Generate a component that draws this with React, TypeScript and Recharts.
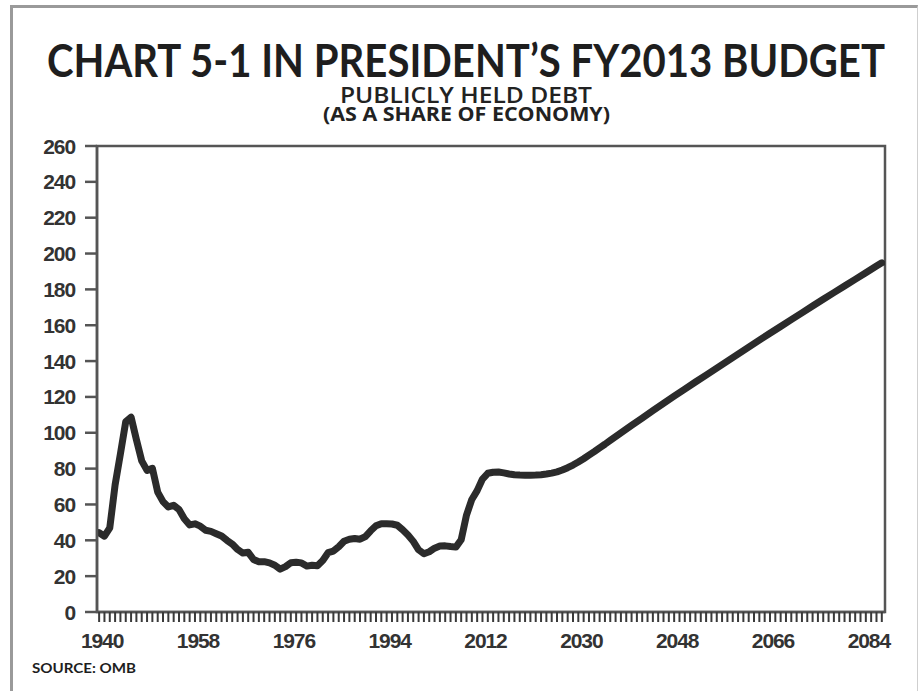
import { LineChart, Line, XAxis, YAxis, ReferenceArea } from "recharts";

// fiscal years plotted (yearly through 2040, every other year after that)
const years = [
  1940, 1941, 1942, 1943, 1944, 1945, 1946, 1947, 1948, 1949,
  1950, 1951, 1952, 1953, 1954, 1955, 1956, 1957, 1958, 1959,
  1960, 1961, 1962, 1963, 1964, 1965, 1966, 1967, 1968, 1969,
  1970, 1971, 1972, 1973, 1974, 1975, 1976, 1977, 1978, 1979,
  1980, 1981, 1982, 1983, 1984, 1985, 1986, 1987, 1988, 1989,
  1990, 1991, 1992, 1993, 1994, 1995, 1996, 1997, 1998, 1999,
  2000, 2001, 2002, 2003, 2004, 2005, 2006, 2007, 2008, 2009,
  2010, 2011, 2012, 2013, 2014, 2015, 2016, 2017, 2018, 2019,
  2020, 2021, 2022, 2023, 2024, 2025, 2026, 2027, 2028, 2029,
  2030, 2031, 2032, 2033, 2034, 2035, 2036, 2037, 2038, 2039,
  2040, 2042, 2044, 2046, 2048, 2050, 2052, 2054, 2056, 2058,
  2060, 2062, 2064, 2066, 2068, 2070, 2072, 2074, 2076, 2078,
  2080, 2082, 2084, 2086, 2087,
];

// debt held by the public, % of GDP
const debt = [
  44.2, 42.3, 47.0, 70.9, 88.3, 106.2, 108.7, 96.2, 84.3, 79.0,
  80.2, 66.9, 61.6, 58.6, 59.5, 57.2, 52.0, 48.6, 49.2, 47.9,
  45.6, 45.0, 43.7, 42.4, 40.0, 37.9, 34.9, 32.9, 33.3, 29.3,
  28.0, 28.1, 27.4, 26.1, 23.9, 25.3, 27.5, 27.8, 27.4, 25.6,
  26.1, 25.8, 28.7, 33.1, 34.0, 36.4, 39.5, 40.6, 41.0, 40.6,
  42.1, 45.3, 48.1, 49.3, 49.2, 49.1, 48.4, 45.9, 43.0, 39.4,
  34.7, 32.5, 33.6, 35.6, 36.8, 36.9, 36.5, 36.2, 40.3, 54.1,
  62.8, 67.7, 74.2, 77.4, 78.0, 78.1, 77.6, 77.0, 76.6, 76.4,
  76.3, 76.3, 76.4, 76.6, 77.0, 77.5, 78.2, 79.2, 80.5, 82.0,
  83.7, 85.5, 87.5, 89.5, 91.6, 93.6, 95.7, 97.8, 99.9, 102.0,
  104.1, 108.2, 112.3, 116.4, 120.4, 124.4, 128.3, 132.2, 136.1, 140.0,
  143.9, 147.8, 151.7, 155.5, 159.3, 163.1, 166.9, 170.7, 174.5, 178.2,
  181.9, 185.6, 189.3, 193.0, 194.8,
];

const yTicks = [0, 20, 40, 60, 80, 100, 120, 140, 160, 180, 200, 220, 240, 260];
const labelYears = [1940, 1958, 1976, 1994, 2012, 2030, 2048, 2066, 2084];
const tickYears = Array.from({ length: 148 }, (_, i) => 1940 + i); // one tick per year

const data = years.map((year, i) => ({ year, debt: debt[i] }));

const AXIS = "#555";
const INK = "#2b2b2b";
const NUM_FONT = "'Liberation Sans', Arial, sans-serif";
const HEAD_FONT = "Lato, 'Liberation Sans', sans-serif";
const SUB_FONT = "'Open Sans', 'Liberation Sans', sans-serif";

function YTick({ x, y, payload }: any) {
  return (
    <text x={x} y={y} dy="0.36em" textAnchor="end" fill="#333" fontFamily={NUM_FONT}
      fontSize={21} fontWeight="bold" style={{ letterSpacing: "-1.1px" }}>
      {payload.value}
    </text>
  );
}

function XTick({ x, y, payload }: any) {
  if (!labelYears.includes(payload.value)) return <g />;
  return (
    <text x={x + 3} y={y} dy="0.71em" textAnchor="middle" fill="#333" fontFamily={NUM_FONT}
      fontSize={21} fontWeight="bold" style={{ letterSpacing: "-1.1px" }}>
      {payload.value}
    </text>
  );
}

export default function App() {
  return (
    <div style={{ position: "absolute", left: 0, top: 0, width: 919, height: 691, background: "#fff", overflow: "hidden" }}>
      <div style={{
        position: "absolute", left: 10, top: 5, width: 908, height: 686, boxSizing: "border-box",
        borderTop: "3px solid #9a9a9a", borderLeft: "3px solid #9a9a9a", borderRight: "1px solid #cfcfcf",
      }} />
      <div style={{ position: "absolute", left: 0, top: 0 }}>
        <LineChart width={919} height={691} data={data} margin={{ top: 146, right: 34, left: 0, bottom: 39 }}>
          <XAxis
            dataKey="year"
            type="number"
            domain={[1939.6, 2087.6]}
            allowDataOverflow
            ticks={tickYears}
            interval={0}
            tick={XTick}
            tickSize={10}
            tickMargin={11}
            tickLine={{ stroke: "#3a3a3a", strokeWidth: 2 }}
            axisLine={{ stroke: AXIS, strokeWidth: 2.5 }}
            height={40}
          />
          <YAxis
            domain={[0, 260]}
            ticks={yTicks}
            interval={0}
            tick={YTick}
            tickSize={12}
            tickMargin={10}
            tickLine={{ stroke: AXIS, strokeWidth: 2.5 }}
            axisLine={{ stroke: AXIS, strokeWidth: 2.5 }}
            width={97}
          />
          <ReferenceArea x1={1939.6} x2={2087.6} y1={0} y2={260} fill="none" stroke={AXIS}
            strokeWidth={2.5} ifOverflow="visible" />
          <Line
            type="linear"
            dataKey="debt"
            stroke={INK}
            strokeWidth={7}
            strokeLinejoin="round"
            strokeLinecap="round"
            dot={false}
            activeDot={false}
            isAnimationActive={false}
          />
        </LineChart>
      </div>
      <svg width={919} height={691} style={{ position: "absolute", left: 0, top: 0, pointerEvents: "none" }}>
        <text x={47} y={77} fontFamily={HEAD_FONT} fontWeight="bold" fontSize={46} fill="#1e1e1e"
          textLength={838} lengthAdjust="spacingAndGlyphs">
          CHART 5-1 IN PRESIDENT’S FY2013 BUDGET
        </text>
        <text x={340} y={103} fontFamily={SUB_FONT} fontWeight={600} fontSize={21} fill="#222"
          textLength={252} lengthAdjust="spacingAndGlyphs">
          PUBLICLY HELD DEBT
        </text>
        <text x={323} y={121} fontFamily={SUB_FONT} fontWeight="bold" fontSize={20} fill="#222"
          textLength={287} lengthAdjust="spacingAndGlyphs">
          (AS A SHARE OF ECONOMY)
        </text>
        <text x={32} y={673} fontFamily={HEAD_FONT} fontWeight="bold" fontSize={14} fill="#1e1e1e"
          textLength={104} lengthAdjust="spacingAndGlyphs">
          SOURCE: OMB
        </text>
      </svg>
    </div>
  );
}
